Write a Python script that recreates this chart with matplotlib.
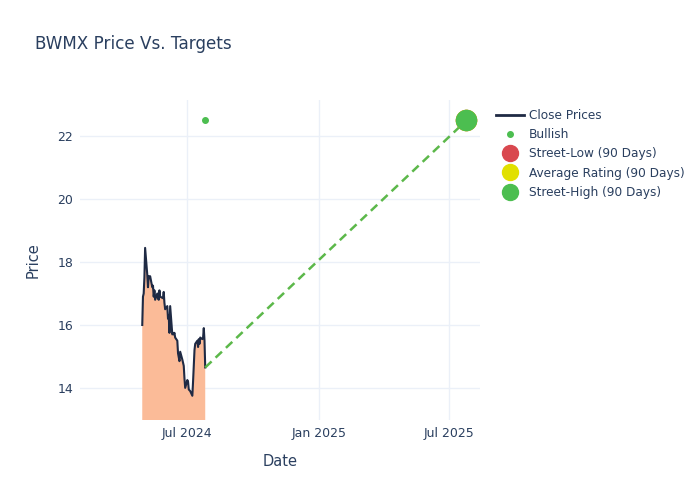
import matplotlib
matplotlib.use("Agg")
import matplotlib.pyplot as plt
import matplotlib.dates as mdates
from matplotlib.lines import Line2D
import pandas as pd

plt.rcParams['font.family'] = ['DejaVu Sans']

# data
holidays = ["2024-05-27", "2024-06-19", "2024-07-04"]
dates = pd.bdate_range("2024-04-29", "2024-07-26", freq="C", holidays=holidays)
closes = [16.0, 16.9, 17.0, 17.5, 18.45, 17.6, 17.2, 17.55, 17.5, 17.55,
          17.2, 17.25, 16.9, 17.1, 16.8, 17.0, 16.85, 16.8, 17.1, 16.9,
          16.85, 17.05, 16.7, 16.5, 16.6, 16.2, 16.3, 15.75, 16.6, 15.7,
          15.75, 15.7, 15.75, 15.6, 15.5, 15.1, 14.85, 15.15, 14.9, 14.8,
          14.7, 14.3, 14.0, 14.25, 14.2, 13.95, 13.9, 13.75, 14.2, 14.7,
          15.2, 15.4, 15.5, 15.3, 15.55, 15.4, 15.6, 15.55, 15.6, 15.9,
          15.5, 14.65]
dates = list(dates)[:len(closes)]

bullish_date = pd.Timestamp("2024-07-26")
bullish_price = 22.5
target_date = pd.Timestamp("2025-07-26")
street_low = 22.5
street_avg = 22.5
street_high = 22.5

txt = "#2a3f5f"
grid = "#ebf0f8"

fig = plt.figure(figsize=(7, 5), dpi=100)
ax = fig.add_axes([80 / 700, 80 / 500, 400 / 700, 320 / 500])

ax.fill_between(dates, closes, 0, color="#fbbb98", zorder=2, linewidth=0)
ax.plot(dates, closes, color="#1f2a44", lw=1.5, zorder=3)
ax.plot([dates[-1], target_date], [closes[-1], street_high], color="#5cb84a",
        lw=1.8, ls=(0, (3.5, 2.2)), zorder=3)
ax.plot([bullish_date], [bullish_price], "o", color="#4cbe50", ms=4, zorder=4)
ax.plot([target_date], [street_low], "o", color="#d9484f", ms=14.5, zorder=4)
ax.plot([target_date], [street_avg], "o", color="#e1e000", ms=14.5, zorder=4)
ax.plot([target_date], [street_high], "o", color="#4cbe50", ms=14.5, zorder=5)

ax.set_xlim(pd.Timestamp("2024-02-02"), pd.Timestamp("2025-08-14"))
ax.set_ylim(12.98, 23.15)
ax.set_yticks([14, 16, 18, 20, 22])
ax.set_xticks([pd.Timestamp("2024-07-01"), pd.Timestamp("2025-01-01"), pd.Timestamp("2025-07-01")])
ax.xaxis.set_major_formatter(mdates.DateFormatter("%b %Y"))
ax.grid(True, color=grid, lw=1, zorder=0)
ax.set_axisbelow(True)
for s in ax.spines.values():
    s.set_visible(False)
ax.tick_params(length=0, colors=txt, labelsize=9, pad=5)
ax.set_xlabel("Date", color=txt, fontsize=10.5, labelpad=10)
ax.set_ylabel("Price", color=txt, fontsize=10.5, labelpad=12)

fig.text(35 / 700, 1 - 44 / 500, "BWMX Price Vs. Targets", color=txt, fontsize=12.1, va="center")

handles = [
    Line2D([], [], color="#1f2a44", lw=2),
    Line2D([], [], marker="o", ls="", color="#4cbe50", ms=4),
    Line2D([], [], marker="o", ls="", color="#d9484f", ms=11.5),
    Line2D([], [], marker="o", ls="", color="#e1e000", ms=11.5),
    Line2D([], [], marker="o", ls="", color="#4cbe50", ms=11.5),
]
labels = ["Close Prices", "Bullish", "Street-Low (90 Days)",
          "Average Rating (90 Days)", "Street-High (90 Days)"]
leg = fig.legend(handles, labels, loc="upper left", bbox_to_anchor=(491 / 700, 1 - 104 / 500),
                 frameon=False, fontsize=8.7, labelspacing=0.52, handlelength=2.3,
                 handletextpad=0.45, borderaxespad=0)
for t in leg.get_texts():
    t.set_color(txt)

fig.savefig("out.png", dpi=100)
